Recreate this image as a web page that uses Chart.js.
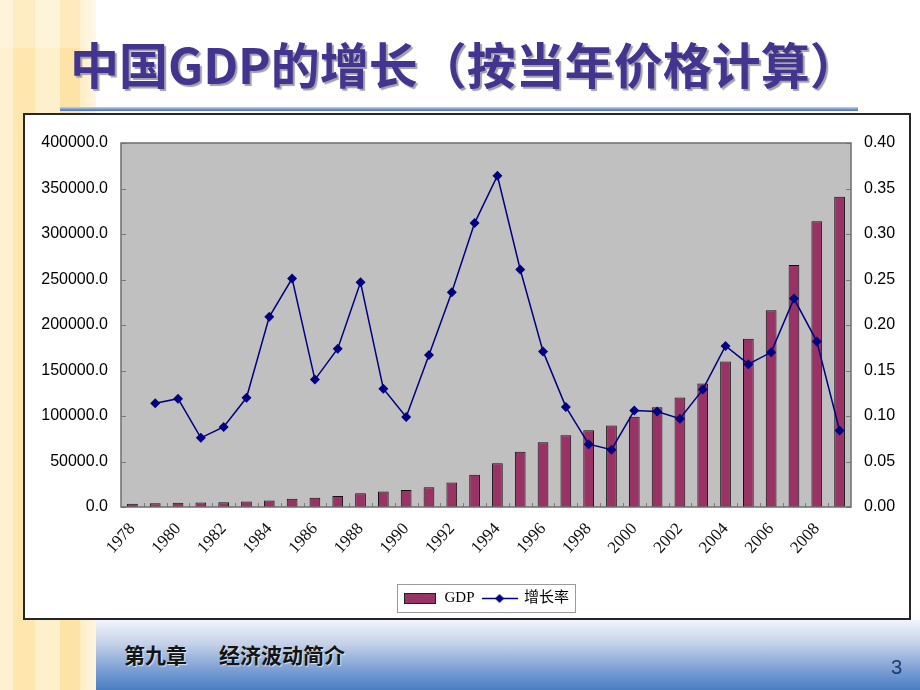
<!DOCTYPE html>
<html>
<head>
<meta charset="utf-8">
<script src="https://cdn.jsdelivr.net/npm/chart.js@4/dist/chart.umd.min.js"></script>
<style>
  html, body { margin: 0; padding: 0; }
  body { width: 920px; height: 690px; position: relative; overflow: hidden; background: #ffffff; }
  #stripes { position: absolute; left: 0; top: 0; width: 96px; height: 690px;
    background: linear-gradient(to right, #FFF1CF 0px, #FFF1CF 13px, #FEE6AE 13px, #FEE6AE 35px, #FFF0CC 35px, #FFF0CC 60px, #FEE3A6 60px, #FEE3A6 80px, #FFEDC2 80px, #FFF6E2 96px); }
  #stripesTop { position: absolute; left: 0; top: 0; width: 96px; height: 48px; background: rgba(255,255,255,0.25); }
  #title { position: absolute; left: 70px; top: 38px; white-space: nowrap;
    font-family: "Noto Sans CJK SC", "Noto Sans", sans-serif; font-weight: 700; font-size: 49px; line-height: 1;
    color: #43358F; text-shadow: 2px 2px 1px #A0A0A8; }
  #rule { position: absolute; left: 60px; top: 107px; width: 798px; height: 4px;
    background: linear-gradient(to bottom, #C9D5EE 0%, #6E8FD0 60%, #4F74BE 100%); }
  #frame { position: absolute; left: 23px; top: 113px; width: 888px; height: 507px; box-sizing: border-box;
    border: 2px solid #262626; background: #ffffff; }
  #chartBox { position: absolute; left: 0; top: 0; width: 884px; height: 503px; }
  #footer { position: absolute; left: 96px; top: 620px; width: 824px; height: 70px;
    background: linear-gradient(to bottom, #F2F4F9 0%, #C3D0E8 35%, #7EA0D4 70%, #4A7EC2 100%); }
  .foot { position: absolute; top: 644px; font-family: "Noto Sans CJK SC", sans-serif; font-weight: 700; font-size: 21px;
    line-height: 1; color: #141414; text-shadow: 1px 1px 1px rgba(255,255,255,0.7); white-space: nowrap; }
  #page { position: absolute; left: 891px; top: 657px; font-family: "Liberation Sans", Arial, sans-serif; font-size: 20px;
    line-height: 1; color: #1F3B70; }
</style>
</head>
<body>
<div id="stripes"></div><div id="stripesTop"></div>
<div id="title">中国GDP的增长（按当年价格计算）</div>
<div id="rule"></div>
<div id="frame"><div id="chartBox"><canvas id="c" width="884" height="503"></canvas></div></div>
<div id="footer"></div>
<div class="foot" style="left:124px;">第九章</div>
<div class="foot" style="left:219px;">经济波动简介</div>
<div id="page">3</div>
<script>
// ---- data ----
const years = ["1978","1979","1980","1981","1982","1983","1984","1985","1986","1987","1988","1989","1990","1991","1992","1993","1994","1995","1996","1997","1998","1999","2000","2001","2002","2003","2004","2005","2006","2007","2008","2009"];
const gdp = [3645.2, 4062.6, 4545.6, 4891.6, 5323.4, 5962.7, 7208.1, 9016.0, 10275.2, 12058.6, 15042.8, 16992.3, 18667.8, 21781.5, 26923.5, 35333.9, 48197.9, 60793.7, 71176.6, 78973.0, 84402.3, 89677.1, 99214.6, 109655.2, 120332.7, 135822.8, 159878.3, 184937.4, 216314.4, 265810.3, 314045.4, 340902.8];
const growth = [null, 0.114, 0.119, 0.076, 0.088, 0.120, 0.209, 0.251, 0.140, 0.174, 0.247, 0.130, 0.099, 0.167, 0.236, 0.312, 0.364, 0.261, 0.171, 0.110, 0.069, 0.063, 0.106, 0.105, 0.097, 0.129, 0.177, 0.157, 0.170, 0.229, 0.182, 0.084];
const seriesNames = ["GDP", "增长率"];
const gdpAxis = { min: 0, max: 400000, step: 50000 };
const rateAxis = { min: 0, max: 0.40, step: 0.05 };

const BAR = "#993366", LINE = "#000080", PLOT_BG = "#C0C0C0";

// legend swatches
function swatchBar() {
  const c = document.createElement("canvas"); c.width = 32; c.height = 11;
  const x = c.getContext("2d");
  x.fillStyle = BAR; x.fillRect(0.5, 0.5, 31, 10);
  x.strokeStyle = "#222"; x.lineWidth = 1; x.strokeRect(0.5, 0.5, 31, 10);
  return c;
}
function swatchLine() {
  const c = document.createElement("canvas"); c.width = 36; c.height = 11;
  const x = c.getContext("2d");
  x.strokeStyle = LINE; x.lineWidth = 1.5;
  x.beginPath(); x.moveTo(0, 5.5); x.lineTo(36, 5.5); x.stroke();
  x.fillStyle = LINE; x.beginPath();
  x.moveTo(18, 1); x.lineTo(22.5, 5.5); x.lineTo(18, 10); x.lineTo(13.5, 5.5); x.closePath(); x.fill();
  return c;
}
const swatches = [swatchBar(), swatchLine()];

const framePlugin = {
  id: "framePlugin",
  beforeDatasetsDraw(chart) {
    const {ctx, chartArea: a} = chart;
    ctx.save(); ctx.fillStyle = PLOT_BG;
    ctx.fillRect(a.left, a.top, a.right - a.left, a.bottom - a.top);
    ctx.restore();
  },
  afterDatasetsDraw(chart) {
    const {ctx, chartArea: a, scales} = chart;
    ctx.save();
    ctx.strokeStyle = "#7A7A7A"; ctx.lineWidth = 1;
    ctx.beginPath();
    const yl = scales.y, yr = scales.y1, xs = scales.x;
    for (let v = gdpAxis.min; v <= gdpAxis.max + 1; v += gdpAxis.step) {
      const p = Math.round(yl.getPixelForValue(v)) + 0.5;
      ctx.moveTo(a.left, p); ctx.lineTo(a.left + 5, p);
    }
    for (let i = 0; i <= 8; i++) {
      const p = Math.round(yr.getPixelForValue(rateAxis.min + i * rateAxis.step)) + 0.5;
      ctx.moveTo(a.right - 5, p); ctx.lineTo(a.right, p);
    }
    for (let i = 1; i < years.length; i++) {
      const p = Math.round((xs.getPixelForValue(i - 1) + xs.getPixelForValue(i)) / 2) + 0.5;
      ctx.moveTo(p, a.bottom); ctx.lineTo(p, a.bottom - 4);
    }
    ctx.stroke();
    ctx.strokeStyle = "#6E6E6E"; ctx.lineWidth = 1.5;
    ctx.strokeRect(a.left, a.top, a.right - a.left, a.bottom - a.top);
    ctx.restore();
  },
  afterDraw(chart) {
    const lg = chart.legend;
    if (!lg || !lg.legendHitBoxes || !lg.legendHitBoxes.length) return;
    const hb = lg.legendHitBoxes;
    let l = Infinity, r = -Infinity, t = Infinity, b = -Infinity;
    hb.forEach(h => { l = Math.min(l, h.left); r = Math.max(r, h.left + h.width); t = Math.min(t, h.top); b = Math.max(b, h.top + h.height); });
    const ctx = chart.ctx;
    ctx.save(); ctx.strokeStyle = "#9A9A9A"; ctx.lineWidth = 1;
    ctx.strokeRect(Math.round(l - 6) + 0.5, Math.round(t - 7) + 0.5, Math.round(r - l + 12), Math.round(b - t + 13));
    ctx.restore();
  }
};

new Chart(document.getElementById("c"), {
  data: {
    labels: years,
    datasets: [
      { type: "line", label: seriesNames[1], data: growth, yAxisID: "y1", borderColor: LINE, backgroundColor: LINE,
        borderWidth: 1.5, pointStyle: "rectRot", pointRadius: 5, pointHoverRadius: 5, pointBackgroundColor: LINE,
        pointBorderColor: LINE, pointBorderWidth: 0, tension: 0, spanGaps: false, order: 0 },
      { type: "bar", label: seriesNames[0], data: gdp, yAxisID: "y", backgroundColor: BAR, borderColor: "#111111",
        borderWidth: 1, barPercentage: 0.47, categoryPercentage: 1.0, order: 1 }
    ]
  },
  options: {
    responsive: false, animation: false, devicePixelRatio: 1,
    layout: { padding: { top: 28, left: 0, right: 0, bottom: 2 } },
    plugins: {
      tooltip: { enabled: false },
      legend: {
        position: "bottom", fullSize: false,
        labels: {
          usePointStyle: true, pointStyleWidth: 34, padding: 8, color: "#111",
          font: { family: "'Liberation Serif', 'Noto Sans CJK SC', serif", size: 15 },
          generateLabels: (chart) => [
            { text: seriesNames[0], pointStyle: swatches[0], datasetIndex: 1, fillStyle: BAR, strokeStyle: "#222", lineWidth: 0, hidden: false },
            { text: seriesNames[1], pointStyle: swatches[1], datasetIndex: 0, fillStyle: LINE, strokeStyle: LINE, lineWidth: 0, hidden: false }
          ]
        }
      }
    },
    scales: {
      x: {
        type: "category", offset: true,
        grid: { display: false, drawTicks: false },
        border: { display: false },
        ticks: { autoSkip: false, minRotation: 48, maxRotation: 48, padding: 12, color: "#111",
          font: { family: "'Liberation Serif', serif", size: 17 },
          callback: (v, i) => (i % 2 === 0 ? years[i] : "") },
        afterFit: (s) => { s.height = 76; }
      },
      y: {
        position: "left", min: gdpAxis.min, max: gdpAxis.max,
        grid: { display: false, drawTicks: false }, border: { display: false },
        ticks: { stepSize: gdpAxis.step, padding: 13, color: "#000",
          font: { family: "'Liberation Sans', Arial, sans-serif", size: 16 },
          callback: (v) => Number(v).toFixed(1) },
        afterFit: (s) => { s.width = 96; }
      },
      y1: {
        position: "right", min: rateAxis.min, max: rateAxis.max,
        grid: { display: false, drawTicks: false }, border: { display: false },
        ticks: { stepSize: rateAxis.step, padding: 13, color: "#000",
          font: { family: "'Liberation Sans', Arial, sans-serif", size: 16 },
          callback: (v) => Number(v).toFixed(2) },
        afterFit: (s) => { s.width = 58; }
      }
    }
  },
  plugins: [framePlugin]
});
</script>
</body>
</html>
